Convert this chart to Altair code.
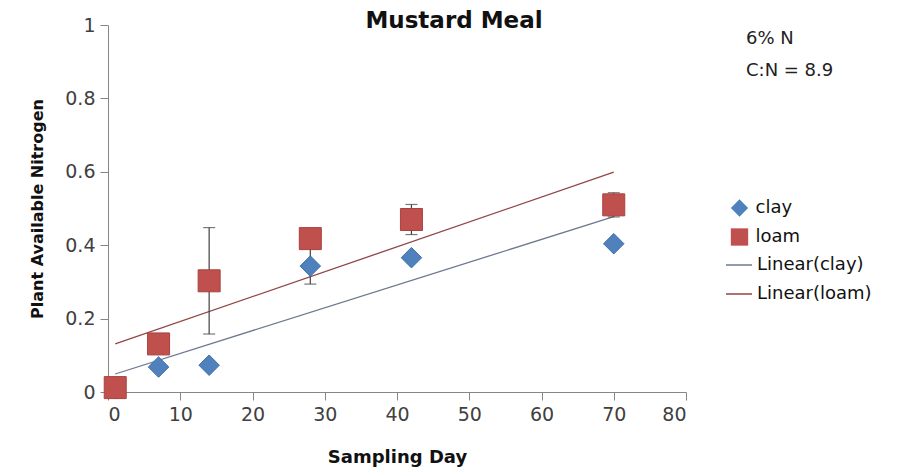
import altair as alt
import pandas as pd

# ---- data ----
days = [1, 7, 14, 28, 42, 70]
clay = [0.010, 0.068, 0.073, 0.343, 0.366, 0.404]
loam = [0.012, 0.131, 0.303, 0.418, 0.470, 0.510]
clay_err = [0, 0, 0, 0.049, 0, 0]
loam_err = [0, 0, 0.145, 0, 0.041, 0.033]

soils = ["clay", "loam"]
soil_colors = ["#4F81BD", "#C0504D"]
soil_edges = ["#3F6EA8", "#A8423F"]
soil_shapes = ["diamond", "square"]
soil_sizes = [420, 484]
trend_names = ["Linear(clay)", "Linear(loam)"]
trend_colors = ["#6C7A90", "#914545"]
x_ticks = [0, 10, 20, 30, 40, 50, 60, 70, 80]
y_ticks = [0, 0.2, 0.4, 0.6, 0.8, 1.0]
notes = "6% N\nC:N = 8.9"

rows = []
for soil, vals, errs in [("clay", clay, clay_err), ("loam", loam, loam_err)]:
    for d, v, e in zip(days, vals, errs):
        rows.append({"day": d, "value": v, "soil": soil, "err": e,
                     "lo": v - e, "hi": v + e})
df = pd.DataFrame(rows)
err_df = df[df["err"] > 0].reset_index(drop=True)

FONT = "DejaVu Sans"

xenc = alt.X("day:Q", scale=alt.Scale(domain=[0, 80], nice=False),
             axis=alt.Axis(values=x_ticks, title="Sampling Day"))
yenc = alt.Y("value:Q", scale=alt.Scale(domain=[0, 1], nice=False),
             axis=alt.Axis(values=y_ticks, format=".1~f",
                           title="Plant Available Nitrogen"))

pt_legend = alt.Legend(
    title=None, orient="none", legendX=622.5, legendY=174,
    labelFont=FONT, labelFontSize=18, labelColor="#111111",
    labelOffset=7, rowPadding=11, symbolSize=300, symbolStrokeWidth=0,
)
ln_legend = alt.Legend(
    title=None, orient="none", legendX=617, legendY=226,
    labelFont=FONT, labelFontSize=18, labelColor="#111111",
    labelOffset=4, rowPadding=6, symbolSize=676, symbolType="stroke",
    symbolStrokeWidth=1.5,
)

trend = (
    alt.Chart(df)
    .transform_regression("day", "value", groupby=["soil"])
    .transform_calculate(series='"Linear(" + datum.soil + ")"')
    .mark_line(strokeWidth=1.3)
    .encode(x=xenc, y=yenc,
            stroke=alt.Stroke("series:N",
                              scale=alt.Scale(domain=trend_names, range=trend_colors),
                              legend=ln_legend))
)

bars = alt.Chart(err_df).mark_rule(color="#404040", strokeWidth=1.2).encode(
    x="day:Q", y="lo:Q", y2="hi:Q")
cap_hi = alt.Chart(err_df).mark_tick(orient="horizontal", size=12, thickness=1.2,
                                     color="#404040").encode(x="day:Q", y="hi:Q")
cap_lo = alt.Chart(err_df).mark_tick(orient="horizontal", size=12, thickness=1.2,
                                     color="#404040").encode(x="day:Q", y="lo:Q")

point_layers = []
for soil, edge, sz in zip(soils, soil_edges, soil_sizes):
    point_layers.append(
        alt.Chart(df)
        .transform_filter(alt.datum.soil == soil)
        .mark_point(filled=True, opacity=1, stroke=edge, strokeWidth=1, size=sz)
        .encode(
            x=xenc, y=yenc,
            color=alt.Color("soil:N", scale=alt.Scale(domain=soils, range=soil_colors),
                            legend=pt_legend),
            shape=alt.Shape("soil:N", scale=alt.Scale(domain=soils, range=soil_shapes),
                            legend=pt_legend),
        )
    )

note = alt.Chart(pd.DataFrame({"t": [notes]})).mark_text(
    align="left", baseline="top", lineBreak="\n", lineHeight=32,
    font=FONT, fontSize=18, color="#222222"
).encode(x=alt.value(638), y=alt.value(5), text="t:N")

chart = (
    alt.layer(trend, bars, cap_hi, cap_lo, *point_layers, note)
    .properties(
        width=578, height=367,
        title=alt.TitleParams("Mustard Meal", font=FONT, fontSize=23, fontWeight="bold",
                              color="#111111", dx=57, offset=-17, frame="group"),
        autosize=alt.AutoSizeParams(type="none"),
        padding={"left": 100, "top": 17, "right": 205, "bottom": 76},
    )
    .configure_view(stroke=None)
    .configure_axis(
        labelFont=FONT, labelFontSize=19, labelColor="#404040",
        titleFont=FONT, titleFontWeight="bold", titleColor="#111111",
        domainColor="#868686", tickColor="#868686", tickSize=8, grid=False,
        labelPadding=5,
    )
    .configure_axisX(titlePadding=24, titleFontSize=18)
    .configure_axisY(titlePadding=19, titleFontSize=16)
)

chart.save("out.html", embed_options={"renderer": "svg", "actions": False})
